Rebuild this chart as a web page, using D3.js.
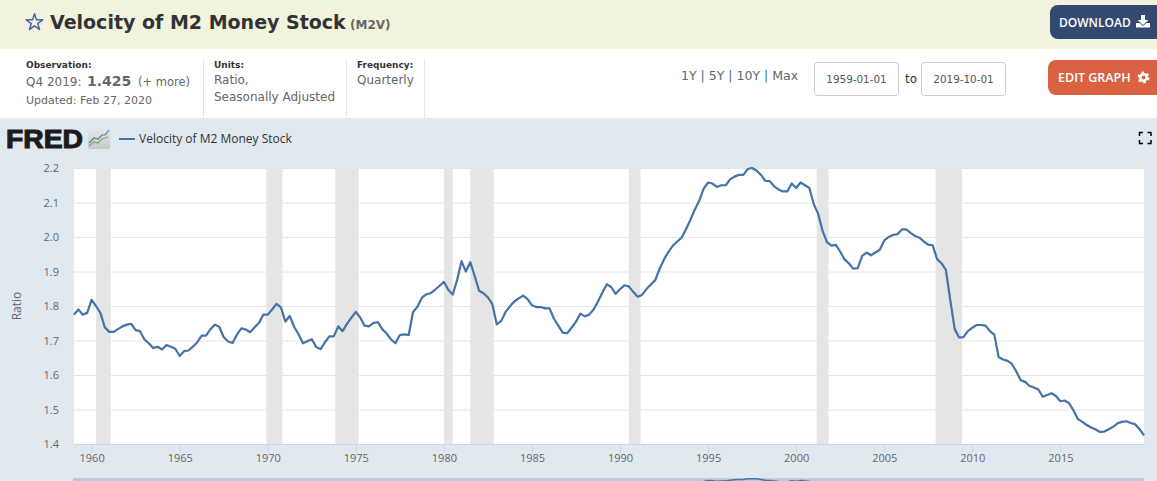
<!DOCTYPE html>
<html>
<head>
<meta charset="utf-8">
<title>Velocity of M2 Money Stock</title>
<script src="https://cdn.jsdelivr.net/npm/d3@7"></script>
<style>
  html, body { margin: 0; padding: 0; background: #fff; overflow: hidden; }
  svg { display: block; }
</style>
</head>
<body>
<script>
// Quarterly M2V, one row per year from 1959 to 2019.
const firstYear = 1959;
const m2v = [
  1.775, 1.790, 1.775, 1.780,
  1.818, 1.800, 1.780, 1.738,
  1.725, 1.725, 1.733, 1.741,
  1.746, 1.748, 1.730, 1.727,
  1.703, 1.692, 1.678, 1.682,
  1.674, 1.687, 1.682, 1.676,
  1.655, 1.669, 1.671, 1.682,
  1.695, 1.714, 1.714, 1.733,
  1.746, 1.740, 1.710, 1.697,
  1.693, 1.717, 1.735, 1.732,
  1.724, 1.738, 1.751, 1.775,
  1.775, 1.790, 1.806, 1.796,
  1.755, 1.771, 1.740, 1.718,
  1.692, 1.698, 1.704, 1.681,
  1.675, 1.695, 1.712, 1.712,
  1.741, 1.727, 1.748, 1.766,
  1.783, 1.767, 1.743, 1.741,
  1.751, 1.753, 1.733, 1.720,
  1.703, 1.692, 1.716, 1.718,
  1.716, 1.782, 1.798, 1.824,
  1.834, 1.837, 1.847, 1.858,
  1.870, 1.847, 1.833, 1.875,
  1.930, 1.900, 1.927, 1.887,
  1.844, 1.837, 1.825, 1.806,
  1.747, 1.756, 1.782, 1.799,
  1.813, 1.822, 1.830, 1.820,
  1.802, 1.797, 1.797, 1.793,
  1.793, 1.763, 1.743, 1.723,
  1.721, 1.737, 1.754, 1.778,
  1.770, 1.775, 1.790, 1.813,
  1.839, 1.863, 1.855, 1.835,
  1.849, 1.860, 1.857, 1.841,
  1.827, 1.832, 1.849, 1.862,
  1.875, 1.908, 1.935, 1.957,
  1.975, 1.987, 1.998, 2.023,
  2.050, 2.080, 2.105, 2.140,
  2.158, 2.155, 2.145, 2.150,
  2.150, 2.167, 2.175, 2.180,
  2.180, 2.197, 2.200, 2.193,
  2.180, 2.163, 2.162, 2.147,
  2.138, 2.132, 2.132, 2.155,
  2.142, 2.158, 2.150, 2.142,
  2.095, 2.067, 2.018, 1.985,
  1.975, 1.977, 1.958, 1.935,
  1.923, 1.908, 1.910, 1.945,
  1.955, 1.947, 1.955, 1.963,
  1.990, 2.000, 2.006, 2.008,
  2.022, 2.022, 2.012, 2.003,
  1.998, 1.987, 1.978, 1.976,
  1.936, 1.924, 1.905, 1.817,
  1.733, 1.709, 1.710, 1.727,
  1.737, 1.745, 1.745, 1.743,
  1.727, 1.717, 1.652, 1.645,
  1.641, 1.632, 1.610, 1.585,
  1.580, 1.568, 1.564, 1.558,
  1.537, 1.542, 1.547, 1.539,
  1.524, 1.526, 1.518, 1.497,
  1.472, 1.464, 1.455, 1.448,
  1.442, 1.435, 1.436, 1.443,
  1.450, 1.460, 1.464, 1.466,
  1.461, 1.457, 1.443, 1.425
];

// Recession bands
const recessionStarts = ["1960-04-01", "1969-12-01", "1973-11-01", "1980-01-01", "1981-07-01", "1990-07-01", "2001-03-01", "2007-12-01"];
const recessionEnds = ["1961-02-01", "1970-11-01", "1975-03-01", "1980-07-01", "1982-11-01", "1991-03-01", "2001-11-01", "2009-06-01"];

const yTicks = [1.4, 1.5, 1.6, 1.7, 1.8, 1.9, 2.0, 2.1, 2.2];
const xTickYears = [1960, 1965, 1970, 1975, 1980, 1985, 1990, 1995, 2000, 2005, 2010, 2015];

const width = 1157;
const height = 481;
const marginTop = 168;
const marginRight = 13;
const marginBottom = 37;
const marginLeft = 74;

const sans = "'Open Sans', sans-serif";
const wide = "'DejaVu Sans', Verdana, sans-serif";
const lineBlue = "#4572a7";

const dates = m2v.map((d, i) => new Date(Date.UTC(firstYear, i * 3, 1)));

const x = d3.scaleUtc()
  .domain([dates[0], dates[dates.length - 1]])
  .range([marginLeft, width - marginRight]);

const y = d3.scaleLinear()
  .domain([1.4, 2.2])
  .range([height - marginBottom, marginTop]);

const svg = d3.select("body").append("svg")
  .attr("width", width)
  .attr("height", height)
  .attr("viewBox", [0, 0, width, height]);

function label(g, str, px, py, size, fill, opts = {}) {
  return g.append("text")
    .attr("x", px)
    .attr("y", py)
    .attr("font-family", opts.family || wide)
    .attr("font-size", size)
    .attr("font-weight", opts.weight || "normal")
    .attr("text-anchor", opts.anchor || "start")
    .attr("fill", fill)
    .text(str);
}

const defs = svg.append("defs");
const iconFill = defs.append("linearGradient")
  .attr("id", "icon-fill")
  .attr("x1", 0).attr("x2", 0).attr("y1", 0).attr("y2", 1);
iconFill.append("stop").attr("offset", 0).attr("stop-color", "#e4e8ec");
iconFill.append("stop").attr("offset", 1).attr("stop-color", "#c4c8c8");
defs.append("clipPath")
  .attr("id", "nav-clip")
  .append("rect")
  .attr("x", marginLeft - 1).attr("y", 478)
  .attr("width", width - marginLeft - marginRight + 1).attr("height", 3);

// Page bands
svg.append("rect").attr("width", width).attr("height", 49).attr("fill", "#f2f3dd");
svg.append("rect").attr("y", 118).attr("width", width).attr("height", height - 118).attr("fill", "#e1e9f0");

// Header
const header = svg.append("g");
header.append("path")
  .attr("transform", "translate(34.500,22.500)")
  .attr("d", d3.symbol(d3.symbolStar, 85)())
  .attr("fill", "none")
  .attr("stroke", "#4a66a8")
  .attr("stroke-width", 1.500)
  .attr("stroke-linejoin", "round");
label(header, "Velocity of M2 Money Stock", 50, 29, 19, "#333", {weight: "bold"});
label(header, "(M2V)", 350, 29, 12, "#666", {weight: "bold"});

header.append("rect")
  .attr("x", 1050).attr("y", 5).attr("width", 120).attr("height", 34)
  .attr("rx", 8).attr("fill", "#34496f");
label(header, "DOWNLOAD", 1059, 27, 12, "#fff", {family: sans, weight: 600});
header.append("path")
  .attr("d", "M1141 15h4v5h3.500l-5.500 5l-5.500-5h3.500zM1136 23h3.500l3.500 3l3.500-3h3.500v4.500h-14z")
  .attr("fill", "#fff");

// Metadata strip
const meta = svg.append("g");
[203.500, 346.500, 424.500].forEach(px => {
  meta.append("line")
    .attr("x1", px).attr("x2", px).attr("y1", 59).attr("y2", 118)
    .attr("stroke", "#e1e9f0");
});
label(meta, "Observation:", 26, 68, 9, "#333", {weight: "bold"});
label(meta, "Q4 2019:", 26, 86, 12, "#666");
label(meta, "1.425", 87, 86, 14, "#666", {weight: "bold"});
label(meta, "(+ more)", 138, 86, 11.500, "#666");
label(meta, "Updated: Feb 27, 2020", 26, 104, 11, "#666");
label(meta, "Units:", 214, 68, 9, "#333", {weight: "bold"});
label(meta, "Ratio,", 214, 84, 12, "#666");
label(meta, "Seasonally Adjusted", 214, 101, 12, "#666");
label(meta, "Frequency:", 357, 68, 9, "#333", {weight: "bold"});
label(meta, "Quarterly", 357, 84, 12, "#666");

// Date range controls
const ranges = meta.append("text")
  .attr("x", 681).attr("y", 80)
  .attr("font-family", wide).attr("font-size", 12.500).attr("fill", "#666");
["1Y", " | ", "5Y", " | ", "10Y", " | ", "Max"].forEach(s => {
  ranges.append("tspan")
    .attr("fill", s === " | " ? "#3a6ea5" : "#666")
    .attr("xml:space", "preserve")
    .text(s);
});
[["1959-01-01", 814.500], ["2019-10-01", 921.500]].forEach(([s, px]) => {
  meta.append("rect")
    .attr("x", px).attr("y", 62.500).attr("width", 84).attr("height", 33)
    .attr("rx", 3).attr("fill", "#fff").attr("stroke", "#ccc");
  label(meta, s, px + 42, 83, 10.400, "#555", {anchor: "middle"});
});
label(meta, "to", 905, 83, 12, "#333");
meta.append("rect")
  .attr("x", 1048).attr("y", 60).attr("width", 120).attr("height", 35)
  .attr("rx", 8).attr("fill", "#d96242");
label(meta, "EDIT GRAPH", 1058, 82, 12.500, "#fff", {family: sans, weight: 600});
meta.append("circle")
  .attr("cx", 1143.500).attr("cy", 77.500).attr("r", 3.200)
  .attr("fill", "none").attr("stroke", "#fff").attr("stroke-width", 2.500);
meta.append("circle")
  .attr("cx", 1143.500).attr("cy", 77.500).attr("r", 5)
  .attr("fill", "none").attr("stroke", "#fff").attr("stroke-width", 2)
  .attr("stroke-dasharray", "2.600 2.630");

// FRED logo and legend
const legend = svg.append("g");
label(legend, "FRED", 6, 148, 25, "#1c1c1c", {family: "'Liberation Sans', sans-serif", weight: "bold"})
  .attr("textLength", 77)
  .attr("lengthAdjust", "spacingAndGlyphs")
  .attr("stroke", "#1c1c1c")
  .attr("stroke-width", 1);
legend.append("rect")
  .attr("x", 88).attr("y", 129).attr("width", 22).attr("height", 20)
  .attr("rx", 2).attr("fill", "url(#icon-fill)");
legend.append("path")
  .attr("d", "M89 146l5-4l4 1l4-4l6-2")
  .attr("fill", "none").attr("stroke", "#86a860").attr("stroke-width", 1.200);
legend.append("path")
  .attr("d", "M89 143l5-5l4 1l4-4l3 0l4-5")
  .attr("fill", "none").attr("stroke", "#5f7f9f").attr("stroke-width", 1.200);
legend.append("line")
  .attr("x1", 119).attr("x2", 135).attr("y1", 139).attr("y2", 139)
  .attr("stroke", lineBlue).attr("stroke-width", 2);
label(legend, "Velocity of M2 Money Stock", 139, 143, 12, "#333", {family: sans});

// Full screen icon
legend.append("path")
  .attr("d", "M1139.500 136v-3.500h3.500M1147.500 132.500h3.500v3.500M1151 140v3.500h-3.500M1143 143.500h-3.500v-3.500")
  .attr("fill", "none").attr("stroke", "#000").attr("stroke-width", 1.500);

// Plot background
svg.append("rect")
  .attr("x", marginLeft)
  .attr("y", marginTop)
  .attr("width", width - marginLeft - marginRight)
  .attr("height", height - marginTop - marginBottom)
  .attr("fill", "#fff");

// Horizontal grid and y axis
svg.append("g")
  .attr("transform", `translate(${marginLeft},0)`)
  .call(d3.axisLeft(y).tickValues(yTicks).tickFormat(d3.format(".1f")).tickSize(0).tickPadding(15))
  .call(g => g.select(".domain").remove())
  .call(g => g.selectAll(".tick line").clone()
    .attr("x2", width - marginLeft - marginRight)
    .attr("stroke", "#e6e6e6"))
  .call(g => g.selectAll("text")
    .attr("font-family", sans)
    .attr("font-size", 11)
    .attr("fill", "#666"));

// Recessions
svg.append("g")
  .attr("fill", "#e5e5e5")
  .selectAll("rect")
  .data(d3.zip(recessionStarts, recessionEnds))
  .join("rect")
  .attr("x", d => x(new Date(d[0])))
  .attr("width", d => x(new Date(d[1])) - x(new Date(d[0])))
  .attr("y", marginTop)
  .attr("height", height - marginTop - marginBottom);

// X axis
svg.append("g")
  .attr("transform", `translate(0,${height - marginBottom})`)
  .call(d3.axisBottom(x)
    .tickValues(xTickYears.map(d => new Date(Date.UTC(d, 0, 1))))
    .tickFormat(d3.utcFormat("%Y"))
    .tickSize(9)
    .tickSizeOuter(0)
    .tickPadding(1))
  .call(g => g.select(".domain").attr("stroke", "#ccd6eb"))
  .call(g => g.selectAll(".tick line").attr("stroke", "#ccd6eb"))
  .call(g => g.selectAll("text")
    .attr("font-family", sans)
    .attr("font-size", 11)
    .attr("fill", "#666"));

// Y axis title
svg.append("text")
  .attr("transform", "translate(21,306) rotate(-90)")
  .attr("text-anchor", "middle")
  .attr("font-family", sans)
  .attr("font-size", 12)
  .attr("fill", "#666")
  .text("Ratio");

// Series
const line = d3.line()
  .x((d, i) => x(dates[i]))
  .y(d => y(d));

svg.append("path")
  .attr("fill", "none")
  .attr("stroke", lineBlue)
  .attr("stroke-width", 2.200)
  .attr("stroke-linejoin", "round")
  .attr("d", line(m2v));

// Navigator strip at the bottom edge, only the top of it fits in the window
const navY = d3.scaleLinear()
  .domain([1.4, 2.2])
  .range([518, 478.500]);

const nav = svg.append("g").attr("clip-path", "url(#nav-clip)");
nav.append("rect")
  .attr("x", marginLeft - 1).attr("y", 478)
  .attr("width", width - marginLeft - marginRight + 1).attr("height", 3)
  .attr("fill", "#b3c9e6");
nav.append("line")
  .attr("x1", marginLeft - 1).attr("x2", width - marginRight)
  .attr("y1", 478.500).attr("y2", 478.500)
  .attr("stroke", "#c8ccd2");
nav.append("path")
  .attr("fill", "none")
  .attr("stroke", lineBlue)
  .attr("stroke-width", 1.500)
  .attr("d", d3.line().x((d, i) => x(dates[i])).y(d => navY(d))(m2v));
</script>
</body>
</html>
